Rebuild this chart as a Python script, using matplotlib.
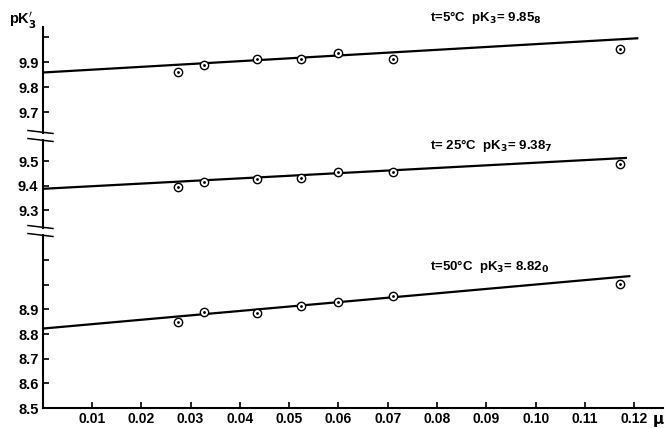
import numpy as np
import matplotlib
matplotlib.use("Agg")
import matplotlib.pyplot as plt
from matplotlib.lines import Line2D

plt.rcParams['font.family'] = ['Liberation Sans Narrow', 'Liberation Sans', 'DejaVu Sans']
plt.rcParams['font.weight'] = 'bold'
plt.rcParams['mathtext.default'] = 'bf'

# ionic strength of the measurements
mu = [0.0275, 0.0328, 0.0435, 0.0525, 0.0600, 0.0710, 0.1170]
# measured pK'3 at each temperature
pk_5 = [9.861, 9.888, 9.911, 9.913, 9.935, 9.913, 9.952]
pk_25 = [9.393, 9.414, 9.425, 9.433, 9.455, 9.454, 9.487]
pk_50 = [8.847, 8.888, 8.884, 8.912, 8.928, 8.955, 9.001]

# fitted straight lines (start at mu = 0, end at the right)
line_5_x = [0.0, 0.1208]
line_5_y = [9.858, 9.995]
line_25_x = [0.0, 0.1185]
line_25_y = [9.387, 9.513]
line_50_x = [0.0, 0.1192]
line_50_y = [8.822, 9.035]

labels = [r"t=5°C  pK$_3$= 9.85$_8$", r"t= 25°C  pK$_3$= 9.38$_7$", r"t=50°C  pK$_3$= 8.82$_0$"]
x_ticks = [0.01, 0.02, 0.03, 0.04, 0.05, 0.06, 0.07, 0.08, 0.09, 0.10, 0.11, 0.12]
x_tick_labels = ["0.01", "0.02", "0.03", "0.04", "0.05", "0.06", "0.07", "0.08", "0.09", "0.10", "0.11", "0.12"]

fig = plt.figure(figsize=(6.65, 4.28), dpi=100)
left = 0.064
width = 0.933
ax_top = fig.add_axes([left, 0.689, width, 0.248])
ax_mid = fig.add_axes([left, 0.467, width, 0.206])
ax_bot = fig.add_axes([left, 0.0467, width, 0.404])

segmentos = [
    (ax_top, pk_5, line_5_x, line_5_y, (9.616, 10.04), [9.7, 9.8, 9.9, 10.0], ["9.7", "9.8", "9.9", ""], labels[0], 10.076),
    (ax_mid, pk_25, line_25_x, line_25_y, (9.227, 9.586), [9.3, 9.4, 9.5], ["9.3", "9.4", "9.5"], labels[1], 9.565),
    (ax_bot, pk_50, line_50_x, line_50_y, (8.5, 9.201), [8.5, 8.6, 8.7, 8.8, 8.9, 9.0, 9.1],
     ["8.5", "8.6", "8.7", "8.8", "8.9", "", ""], labels[2], 9.072),
]

for ax, pk, lx, ly, ylim, yt, ytl, lab, ylab in segmentos:
    ax.set_xlim(0, 0.1258)
    ax.set_ylim(*ylim)
    ax.plot(lx, ly, color='black', lw=1.6, solid_capstyle='butt')
    ax.plot(mu, pk, 'o', ms=6, mfc='white', mec='black', mew=1.0, clip_on=False)
    ax.plot(mu, pk, '.', ms=2, color='black', clip_on=False)
    ax.set_yticks(yt)
    ax.set_yticklabels(ytl, fontsize=10.5, fontweight='bold')
    ax.tick_params(axis='y', direction='in', length=4, width=1.2, pad=3)
    for s in ['top', 'right']:
        ax.spines[s].set_visible(False)
    ax.spines['left'].set_linewidth(1.5)
    ax.text(0.0786, ylab, lab, fontsize=9.5, fontweight='bold', va='center', ha='left', clip_on=False)
    ax.patch.set_alpha(0)

for ax in [ax_top, ax_mid]:
    ax.spines['bottom'].set_visible(False)
    ax.set_xticks([])

ax_bot.spines['bottom'].set_linewidth(1.5)
ax_bot.set_xticks(x_ticks)
ax_bot.set_xticklabels(x_tick_labels, fontsize=10, fontweight='bold')
ax_bot.tick_params(axis='x', direction='in', length=4, width=1.2, pad=3)

# break marks on the y axis
def marca_corte(y_px):
    y0 = 1 - y_px / 428
    fig.add_artist(Line2D([28 / 665, 53 / 665], [y0 + 1.5 / 428, y0 - 1.5 / 428],
                          transform=fig.transFigure, color='black', lw=1.1))

for y_px in [132, 140, 227, 235]:
    marca_corte(y_px)

fig.text(9 / 665, 1 - 20 / 428, r"pK$_3'$", fontsize=10.5, fontweight='bold', ha='left', va='center')
fig.text(652 / 665, 1 - 421 / 428, r"$\mu$", fontsize=11, ha='left', va='center')

fig.savefig("out.png", dpi=100)
